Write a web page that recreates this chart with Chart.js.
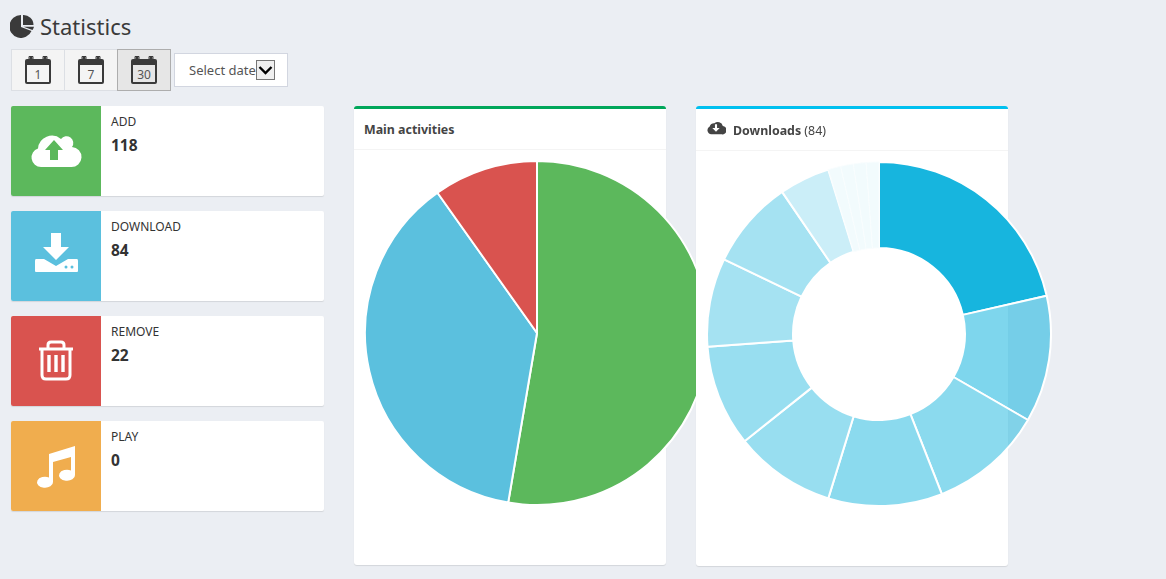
<!DOCTYPE html>
<html>
<head>
<meta charset="utf-8">
<title>Statistics</title>
<script src="https://cdn.jsdelivr.net/npm/chart.js@4"></script>
<style>
html, body { margin: 0; padding: 0; width: 1166px; height: 579px; overflow: hidden; background: #ebeef3; font-family: "Noto Sans", sans-serif; color: #333; }
.abs { position: absolute; }
h1 { position: absolute; left: 40px; top: 11px; margin: 0; font-size: 22px; line-height: 30px; font-weight: 400; color: #3a3a3a; }
.btn { position: absolute; top: 49px; height: 40px; background: #f4f4f4; border: 1px solid #dcdfe4; }
.btn.on { background: #e6e6e6; border: 1px solid #adadad; }
.btn svg { position: absolute; left: 12px; top: 5px; }
.pick { position: absolute; left: 174px; top: 53px; height: 32px; background: #fff; border: 1px solid #d2d6e0; font-size: 13px; line-height: 32px; color: #555; padding-left: 14px; width: 98px; }
.pick span { position: absolute; left: 81px; top: 6px; width: 17px; height: 18px; border: 1px solid #767676; background: #efefef; }
.pick svg { position: absolute; left: 0; top: 0; }
.stat { position: absolute; left: 11px; width: 313px; height: 90px; background: #fff; border-radius: 2px; box-shadow: 0 1px 1px rgba(0,0,0,.1); overflow: hidden; }
.stat .ico { position: absolute; left: 0; top: 0; width: 90px; height: 90px; }
.stat .lab { position: absolute; left: 100px; top: 8px; font-size: 12px; line-height: 16px; color: #333; }
.stat .num { position: absolute; left: 100px; top: 28px; font-size: 15.5px; line-height: 22px; font-weight: 700; color: #333; }
.box { position: absolute; top: 106px; width: 312px; background: #fff; border-top: 3px solid; border-radius: 3px; box-shadow: 0 1px 1px rgba(0,0,0,.1); box-sizing: border-box; }
.box .head { position: absolute; left: 0; right: 0; top: 0; border-bottom: 1px solid #f4f4f4; font-size: 12.4px; font-weight: 700; color: #444; }
canvas { position: absolute; }
</style>
</head>
<body>
<svg class="abs" style="left:10px;top:14px" width="25" height="24" viewBox="0 0 25 24">
  <path d="M11 1 A11.5 11.5 0 1 0 21.5 17 L11 13 Z" fill="#3a3a3a"/>
  <path d="M13 1 A10 10 0 0 1 23.5 11 L13 11 Z" fill="#3a3a3a"/>
  <path d="M13.5 12.8 L24 12.8 A10 10 0 0 1 22.5 16 Z" fill="#3a3a3a"/>
</svg>
<h1>Statistics</h1>

<div id="btns"></div>
<div class="pick">Select date<span><svg width="17" height="18" viewBox="0 0 17 18"><path d="M2.5 6 L8.5 12 L14.5 6" fill="none" stroke="#000" stroke-width="2.4"/></svg></span></div>

<div id="stats"></div>

<div class="box" style="left:354px;height:459px;border-color:#00a65a;z-index:1">
  <div class="head" style="height:40px;line-height:42px;padding-left:10px">Main activities</div>
</div>
<canvas id="mainChart" width="346" height="346" style="left:364px;top:160px;z-index:2"></canvas>

<div class="box" style="left:696px;height:460px;border-color:#00c0ef;z-index:3">
  <div class="head" style="height:41px;line-height:44px;padding-left:37px">Downloads <span style="font-weight:400">(84)</span></div>
  <svg class="abs" style="left:10px;top:10px" width="20" height="17" viewBox="0 0 19 15">
    <path d="M5 14 A4 4 0 0 1 3.5 6.5 A4.5 4.5 0 0 1 8 3.5 A5 5 0 0 1 16 6 A4 4 0 0 1 15 14 Z" fill="#444"/>
    <path d="M8.5 4.5 H10.5 V8 H13 L9.5 11.5 L6 8 H8.5 Z" fill="#fff"/>
  </svg>
</div>
<canvas id="downloadChart" width="346" height="346" style="left:706px;top:161px;z-index:4"></canvas>

<script>
const activityLabels = ["ADD", "DOWNLOAD", "REMOVE", "PLAY"]
const activityValues = [118, 84, 22, 0]
const activityColors = ["#5cb85c", "#5bc0de", "#d9534f", "#f0ad4e"]
const downloadValues = [18, 10, 9, 9, 8, 8, 7, 7, 4, 1, 1, 1, 1]
const dayButtons = ["1", "7", "30"]

const icons = [
  '<path d="M30 61 A9.5 9.5 0 0 1 27 42.5 A14 14 0 0 1 50 33 A6.5 6.5 0 0 1 61 41 A10 10 0 0 1 60 61 Z" fill="#fff"/><path d="M43 34 L52 44 H47 V54 H39 V44 H34 Z" fill="#5cb85c"/>',
  '<path d="M40 22 H50 V36 H58 L45 49 L32 36 H40 Z" fill="#fff"/><path d="M24 48 H33 L45 55 L57 48 H66 Q67 48 67 50 V60 Q67 61 66 61 H25 Q24 61 24 60 V50 Q24 48 25 48 Z" fill="#fff"/><circle cx="55" cy="56" r="1.5" fill="#5bc0de"/><circle cx="61" cy="56" r="1.5" fill="#5bc0de"/>',
  '<path d="M28 33 H62 M37 33 V29 Q37 26 40 26 H50 Q53 26 53 29 V33 M31 33 V59 Q31 63 35 63 H55 Q59 63 59 59 V33" fill="none" stroke="#fff" stroke-width="3"/><path d="M38 39 V56 M45 39 V56 M52 39 V56" stroke="#fff" stroke-width="3.4"/>',
  '<path d="M38 33 L64 25 V54 A8 5.5 0 1 1 60 49.5 V36 L42 41 V61 A8 5.5 0 1 1 38 56.5 Z" fill="#fff"/>'
]

dayButtons.forEach((d, i) => {
  const on = i === 2
  document.getElementById("btns").insertAdjacentHTML("beforeend",
    `<div class="btn${on ? " on" : ""}" style="left:${11 + i * 53}px;width:52px">
      <svg width="28" height="30" viewBox="0 0 28 30">
        <path d="M3 4 H25 Q27 4 27 6 V27 Q27 29 25 29 H3 Q1 29 1 27 V6 Q1 4 3 4 Z" fill="#3a3a3a"/>
        <rect x="3" y="10" width="22" height="17" fill="${on ? "#e6e6e6" : "#f4f4f4"}"/>
        <path d="M7 7 V3 M21 7 V3" stroke="#3a3a3a" stroke-width="3" stroke-linecap="round"/>
        <path d="M5 5 V1.5 H9 V5 M19 5 V1.5 H23 V5" fill="none" stroke="#3a3a3a" stroke-width="1"/>
        <text x="14" y="23.5" text-anchor="middle" font-size="12" font-family="Noto Sans" fill="#555">${d}</text>
      </svg></div>`)
})

activityLabels.forEach((name, i) => {
  document.getElementById("stats").insertAdjacentHTML("beforeend",
    `<div class="stat" style="top:${106 + i * 105}px">
      <svg class="ico" width="90" height="90" style="background:${activityColors[i]}">${icons[i]}</svg>
      <div class="lab">${name}</div>
      <div class="num">${activityValues[i]}</div>
    </div>`)
})

new Chart(document.getElementById("mainChart").getContext("2d"), {
  type: "pie",
  data: {
    labels: activityLabels,
    datasets: [{ data: activityValues, backgroundColor: activityColors, borderColor: "#fff", borderWidth: 2 }],
  },
  options: {
    responsive: false,
    animation: false,
    events: [],
    plugins: { legend: { display: false }, tooltip: { enabled: false } },
  },
})

const maxDownload = Math.max(...downloadValues)
new Chart(document.getElementById("downloadChart").getContext("2d"), {
  type: "doughnut",
  data: {
    labels: downloadValues.map((v, i) => "Item " + (i + 1)),
    datasets: [{
      data: downloadValues,
      // tint follows the value, biggest slice is solid
      backgroundColor: downloadValues.map((v) => `rgba(23,181,222,${v / maxDownload})`),
      // the palest slices barely show their separators
      borderColor: downloadValues.map((v) => (v === 1 ? "#f9fdfe" : "#fff")),
      borderWidth: downloadValues.map((v) => (v === 1 ? 1 : 2)),
    }],
  },
  options: {
    responsive: false,
    animation: false,
    events: [],
    cutout: "50%",
    plugins: { legend: { display: false }, tooltip: { enabled: false } },
  },
})
</script>
</body>
</html>
